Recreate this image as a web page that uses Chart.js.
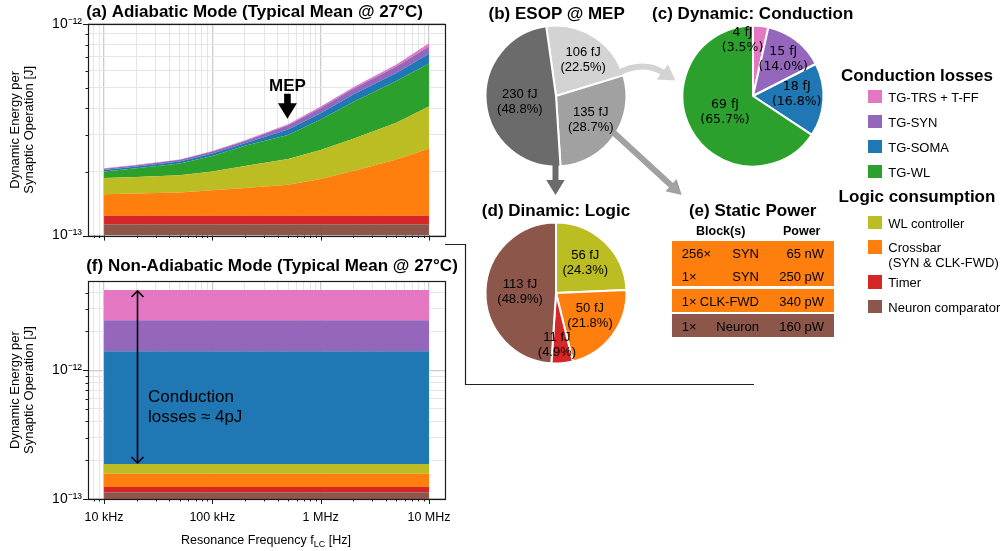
<!DOCTYPE html>
<html><head><meta charset="utf-8">
<script src="https://cdn.jsdelivr.net/npm/chart.js@4.4.0/dist/chart.umd.min.js"></script>
<style>
html,body{margin:0;padding:0;background:#fff;}
#root{position:relative;width:1000px;height:551px;overflow:hidden;font-family:'Liberation Sans',Arial,sans-serif;color:#000;}
canvas{position:absolute;}
.t{position:absolute;white-space:nowrap;transform:translate(-50%,-50%);line-height:1;}
.l{position:absolute;white-space:nowrap;line-height:1;}
.sw{position:absolute;width:13.5px;height:13.5px;}
.blk{position:absolute;}
</style></head><body><div id="root">
<canvas id="cA" width="470" height="250" style="left:0;top:0;width:470px;height:250px"></canvas>
<canvas id="cF" width="470" height="301" style="left:0;top:250px;width:470px;height:301px"></canvas>
<canvas id="cB" width="160" height="160" style="left:476px;top:16px;width:160px;height:160px"></canvas>
<canvas id="cC" width="160" height="160" style="left:673px;top:16px;width:160px;height:160px"></canvas>
<canvas id="cD" width="160" height="160" style="left:476px;top:213px;width:160px;height:160px"></canvas>
<canvas id="cO" width="1000" height="551" style="left:0;top:0;width:1000px;height:551px;z-index:5;pointer-events:none"></canvas>
<div id="html" style="position:absolute;left:0;top:0;width:1000px;height:551px;z-index:6"></div>
</div>
<script>
// ---------------- DATA ----------------
const freqHz = [1e4, 2e4, 5e4, 1e5, 2e5, 5e5, 1e6, 2e6, 5e6, 1e7];
// Adiabatic mode components (fJ per synaptic operation)
const adNeuron   = [113, 113, 113, 113, 113, 113, 113, 113, 113, 113];
const adTimer    = [11, 11, 11, 11, 11, 11, 11, 11, 11, 11];
const adCrossbar = [33, 34, 36, 40, 44, 50, 61, 78, 105, 134];
const adWlCtrl   = [30, 31, 33, 37, 45, 56, 69, 85, 112, 149];
const adTgWl     = [14, 19, 26, 37, 53, 69, 100, 141, 197, 244];
const adTgSoma   = [3, 4, 5, 6.5, 7, 18, 25, 36, 49, 72];
const adTgSyn    = [3, 3, 4, 5, 7, 15, 22, 30, 42, 60];
const adTgTrs    = [1, 1, 1, 1.5, 2, 4, 6, 9, 14, 28];
const mepHz = 5e5;
// Non-adiabatic mode (constant over frequency), fJ, same series order
const naFreqHz = [1e4, 1e7];
const naFJ = [113, 11, 33, 30, 0, 1216, 1037, 1750];

const seriesNames  = ['Neuron comparator', 'Timer', 'Crossbar', 'WL controller', 'TG-WL', 'TG-SOMA', 'TG-SYN', 'TG-TRS + T-FF'];
const seriesColors = ['#8c564b', '#d62728', '#ff7f0e', '#bcbd22', '#2ca02c', '#1f77b4', '#9467bd', '#e377c2'];

const xTickValues = [1e4, 1e5, 1e6, 1e7];
const xTickLabels = ['10 kHz', '100 kHz', '1 MHz', '10 MHz'];
const yTickValues = [1e-13, 1e-12];
const yTickLabels = ['10\u207B\u00B9\u00B3', '10\u207B\u00B9\u00B2'];

// Pies
const esopFJ  = [106, 135, 230];           // conduction, static, logic
const esopPct = [22.5, 28.7, 48.8];
const esopColors = ['#d3d3d3', '#a1a1a1', '#6b6b6b'];
const condFJ  = [4, 15, 18, 69];           // TG-TRS+T-FF, TG-SYN, TG-SOMA, TG-WL
const condPct = [3.5, 14.0, 16.8, 65.7];
const condColors = ['#e377c2', '#9467bd', '#1f77b4', '#2ca02c'];
const logicFJ  = [56, 50, 11, 113];        // WL controller, Crossbar, Timer, Neuron comparator
const logicPct = [24.3, 21.8, 4.9, 48.9];
const logicColors = ['#bcbd22', '#ff7f0e', '#d62728', '#8c564b'];

// Static power table
const staticCount = ['256\u00D7', '1\u00D7', '1\u00D7', '1\u00D7'];
const staticBlock = ['SYN', 'SYN', 'CLK-FWD', 'Neuron'];
const staticPower = ['65 nW', '250 pW', '340 pW', '160 pW'];
const staticGroupColor = ['#ff7f0e', '#ff7f0e', '#8c564b'];

// Legends
const condLegend = ['TG-TRS + T-FF', 'TG-SYN', 'TG-SOMA', 'TG-WL'];
const logicLegend = ['WL controller', 'Crossbar|(SYN & CLK-FWD)', 'Timer', 'Neuron comparator'];

// ---------------- HELPERS ----------------
const FONT = "'Liberation Sans', Arial, sans-serif";
Chart.defaults.font.family = FONT;
Chart.defaults.color = '#000';
const X_MIN = Math.pow(10, 3.852), X_MAX = Math.pow(10, 7.148);
function isPow10(v){ const l = Math.log10(v); return Math.abs(l - Math.round(l)) < 1e-6; }
function decadeTicks(lo, hi){
  const out = [];
  for (let e = Math.floor(Math.log10(lo)) - 1; e <= Math.ceil(Math.log10(hi)); e++)
    for (let m = 1; m <= 9; m++){ const v = m * Math.pow(10, e); if (v >= lo*(1-1e-9) && v <= hi*(1+1e-9)) out.push(v); }
  return out;
}
function matchLabel(v, vals, labels){
  for (let i = 0; i < vals.length; i++) if (Math.abs(Math.log10(v) - Math.log10(vals[i])) < 1e-6) return labels[i];
  return '';
}
// zero-valued series cannot sit on a log scale; they are left out of the stack
function buildDatasets(xs, comps){
  const out = [];
  comps.forEach((vals, i) => {
    if (vals.every(v => v === 0)) return;
    out.push({
      label: seriesNames[i],
      data: xs.map((x, j) => ({x: x, y: vals[j] * 1e-15})),
      backgroundColor: seriesColors[i], borderColor: seriesColors[i],
      borderWidth: 0, pointRadius: 0, tension: 0, fill: out.length === 0 ? 'start' : '-1'
    });
  });
  return out;
}
function gridColor(c){ return c.tick && isPow10(c.tick.value) ? '#cdcdcd' : '#e5e5e5'; }
function gridWidth(c){ return c.tick && isPow10(c.tick.value) ? 1.3 : 1; }

function frameAndTicks(chart){
  const ctx = chart.ctx, a = chart.chartArea, xs = chart.scales.x, ys = chart.scales.y;
  ctx.save();
  ctx.strokeStyle = '#1a1a1a'; ctx.lineWidth = 1;
  ctx.beginPath();
  xs.ticks.forEach(t => { const p = Math.round(xs.getPixelForValue(t.value)) + 0.5; const L = isPow10(t.value) ? 5 : 2.5;
    ctx.moveTo(p, a.bottom); ctx.lineTo(p, a.bottom + L); });
  ys.ticks.forEach(t => { const p = Math.round(ys.getPixelForValue(t.value)) + 0.5; const L = isPow10(t.value) ? 5 : 2.5;
    ctx.moveTo(a.left, p); ctx.lineTo(a.left - L, p); });
  ctx.stroke();
  ctx.lineWidth = 1.2;
  ctx.strokeRect(Math.round(a.left) + 0.5, Math.round(a.top) + 0.5, Math.round(a.right - a.left), Math.round(a.bottom - a.top));
  ctx.restore();
}
function yTitle(chart){
  const ctx = chart.ctx, a = chart.chartArea;
  ctx.save();
  ctx.translate(0, (a.top + a.bottom) / 2);
  ctx.rotate(-Math.PI / 2);
  ctx.font = '13px ' + FONT; ctx.fillStyle = '#000'; ctx.textAlign = 'center'; ctx.textBaseline = 'middle';
  ctx.fillText('Dynamic Energy per', 0, 15);
  ctx.fillText('Synaptic Operation [J]', 0, 29.5);
  ctx.restore();
}
function titleText(ctx, text, cx, cy){
  ctx.save(); ctx.font = 'bold 17px ' + FONT; ctx.fillStyle = '#000'; ctx.textAlign = 'center'; ctx.textBaseline = 'middle';
  ctx.fillText(text, cx, cy); ctx.restore();
}

function areaOptions(yMax, padTop, xAxisH, showX){
  const yT = decadeTicks(1e-13, yMax), xT = decadeTicks(X_MIN, X_MAX);
  return {
    responsive: false, animation: false, events: [],
    layout: {padding: {top: padTop, right: 25, left: 0, bottom: 0}},
    plugins: {legend: {display: false}, tooltip: {enabled: false}},
    scales: {
      x: {type: 'logarithmic', min: X_MIN, max: X_MAX,
          afterBuildTicks: s => { s.ticks = xT.map(v => ({value: v})); },
          afterFit: s => { s.height = xAxisH; },
          grid: {color: gridColor, lineWidth: gridWidth, drawTicks: false},
          border: {display: false},
          ticks: {display: showX, autoSkip: false, maxRotation: 0, minRotation: 0, padding: 11, font: {size: 12.5},
                  callback: v => matchLabel(v, xTickValues, xTickLabels)}},
      y: {type: 'logarithmic', stacked: true, min: 1e-13, max: yMax,
          afterBuildTicks: s => { s.ticks = yT.map(v => ({value: v})); },
          afterFit: s => { s.width = 88; },
          grid: {color: gridColor, lineWidth: gridWidth, drawTicks: false},
          border: {display: false},
          ticks: {autoSkip: false, padding: 6, font: {size: 14},
                  callback: v => matchLabel(v, yTickValues, yTickLabels)}}
    }
  };
}

// ---------------- CHART (a) ----------------
const adComps = [adNeuron, adTimer, adCrossbar, adWlCtrl, adTgWl, adTgSoma, adTgSyn, adTgTrs];
new Chart(document.getElementById('cA'), {
  type: 'line',
  data: {datasets: buildDatasets(freqHz, adComps)},
  options: areaOptions(1e-12, 24, 6, false),
  plugins: [{id: 'decoA', afterDraw(chart){
    frameAndTicks(chart); yTitle(chart);
    const ctx = chart.ctx;
    titleText(ctx, '(a) Adiabatic Mode (Typical Mean @ 27\u00B0C)', 254.5, 12.7);
    // MEP arrow
    const k = freqHz.indexOf(mepHz);
    const tot = adComps.reduce((s, arr) => s + arr[k], 0) * 1e-15;
    const x = chart.scales.x.getPixelForValue(mepHz) - 0.6;
    const tip = chart.scales.y.getPixelForValue(tot) - 5.5;
    ctx.save(); ctx.fillStyle = '#000';
    ctx.beginPath();
    ctx.moveTo(x - 3.3, tip - 25); ctx.lineTo(x + 3.3, tip - 25); ctx.lineTo(x + 3.3, tip - 15.5);
    ctx.lineTo(x + 9.5, tip - 15.5); ctx.lineTo(x, tip); ctx.lineTo(x - 9.5, tip - 15.5); ctx.lineTo(x - 3.3, tip - 15.5);
    ctx.closePath(); ctx.fill();
    ctx.font = 'bold 17px ' + FONT; ctx.textAlign = 'center'; ctx.textBaseline = 'middle';
    ctx.fillText('MEP', x, tip - 32);
    ctx.restore();
  }}]
});

// ---------------- CHART (f) ----------------
const naComps = naFJ.map(v => naFreqHz.map(() => v));
new Chart(document.getElementById('cF'), {
  type: 'line',
  data: {datasets: buildDatasets(naFreqHz, naComps)},
  options: areaOptions(Math.pow(10, -11.308), 31, 52, true),
  plugins: [{id: 'decoF', afterDraw(chart){
    frameAndTicks(chart); yTitle(chart);
    const ctx = chart.ctx;
    titleText(ctx, '(f) Non-Adiabatic Mode (Typical Mean @ 27\u00B0C)', 272, 16.7);
    // x title with subscript
    ctx.save(); ctx.fillStyle = '#000'; ctx.textBaseline = 'alphabetic'; ctx.textAlign = 'left';
    const parts = [['Resonance Frequency f', 12.5, 0], ['LC', 9, 3], [' [Hz]', 12.5, 0]];
    let w = 0; parts.forEach(p => { ctx.font = p[1] + 'px ' + FONT; w += ctx.measureText(p[0]).width; });
    let cx = 266 - w / 2; const base = 293.5;
    parts.forEach(p => { ctx.font = p[1] + 'px ' + FONT; ctx.fillText(p[0], cx, base + p[2]); cx += ctx.measureText(p[0]).width; });
    ctx.restore();
    // conduction double arrow at 20 kHz
    const xs = chart.scales.x, ys = chart.scales.y;
    const ax = Math.round(xs.getPixelForValue(2e4)) + 0.5;
    const top = ys.getPixelForValue(naFJ.reduce((s, v) => s + v, 0) * 1e-15);
    const bot = ys.getPixelForValue((naFJ[0] + naFJ[1] + naFJ[2] + naFJ[3]) * 1e-15);
    ctx.save(); ctx.strokeStyle = '#000'; ctx.lineWidth = 1.6; ctx.lineJoin = 'miter';
    ctx.beginPath(); ctx.moveTo(ax, top + 1); ctx.lineTo(ax, bot - 1); ctx.stroke();
    ctx.beginPath(); ctx.moveTo(ax - 6, top + 7); ctx.lineTo(ax, top + 1); ctx.lineTo(ax + 6, top + 7); ctx.stroke();
    ctx.beginPath(); ctx.moveTo(ax - 6, bot - 7); ctx.lineTo(ax, bot - 1); ctx.lineTo(ax + 6, bot - 7); ctx.stroke();
    ctx.font = '17px ' + FONT; ctx.fillStyle = '#000'; ctx.textAlign = 'left'; ctx.textBaseline = 'middle';
    ctx.fillText('Conduction', ax + 10.5, 147);
    ctx.fillText('losses \u2248 4pJ', ax + 10.5, 167.3);
    ctx.restore();
  }}]
});

// ---------------- PIES ----------------
function pie(id, pct, fj, colors, rotation, font, dist, angOff){
  new Chart(document.getElementById(id), {
    type: 'pie',
    data: {labels: fj.map(String), datasets: [{data: pct, backgroundColor: colors, borderColor: '#fff', borderWidth: 2, radius: 70.5, rotation: rotation}]},
    options: {responsive: false, animation: false, events: [], rotation: rotation, radius: 70.5,
              layout: {padding: 0}, plugins: {legend: {display: false}, tooltip: {enabled: false}}},
    plugins: [{id: 'pl', afterDatasetsDraw(chart){
      const ctx = chart.ctx, meta = chart.getDatasetMeta(0);
      ctx.save(); ctx.font = font; ctx.fillStyle = '#000'; ctx.textAlign = 'center'; ctx.textBaseline = 'middle';
      meta.data.forEach((arc, i) => {
        const p = arc.getProps(['x', 'y', 'startAngle', 'endAngle', 'outerRadius'], true);
        const mid = (p.startAngle + p.endAngle) / 2 + angOff[i] * Math.PI / 180;
        const r = p.outerRadius * dist[i];
        const cx = p.x + Math.cos(mid) * r, cy = p.y + Math.sin(mid) * r;
        ctx.fillText(fj[i] + ' fJ', cx, cy - 7.5);
        ctx.fillText('(' + pct[i].toFixed(1) + '%)', cx, cy + 7.5);
      });
      ctx.restore();
    }}]
  });
}
pie('cB', esopPct, esopFJ, esopColors, -8, '13px ' + FONT, [0.64, 0.6, 0.52], [4.5, 0, -3.4]);
pie('cC', condPct, condFJ, condColors, 0, "12.5px 'DejaVu Sans', sans-serif", [0.8, 0.67, 0.62, 0.46], [-17, 2, -5, -2]);
pie('cD', logicPct, logicFJ, logicColors, 0, '13px ' + FONT, [0.6, 0.58, 0.74, 0.51], [0, -3, 4, 0]);

// ---------------- OVERLAY ARROWS / CONNECTOR ----------------
(function(){
  const ctx = document.getElementById('cO').getContext('2d');
  function blockArrow(x0, y0, x1, y1, w, hw, hl, color){
    const dx = x1 - x0, dy = y1 - y0, L = Math.hypot(dx, dy), ux = dx / L, uy = dy / L, px = -uy, py = ux;
    const bx = x1 - ux * hl, by = y1 - uy * hl;
    ctx.fillStyle = color; ctx.beginPath();
    ctx.moveTo(x0 + px*w/2, y0 + py*w/2); ctx.lineTo(bx + px*w/2, by + py*w/2); ctx.lineTo(bx + px*hw/2, by + py*hw/2);
    ctx.lineTo(x1, y1); ctx.lineTo(bx - px*hw/2, by - py*hw/2); ctx.lineTo(bx - px*w/2, by - py*w/2); ctx.lineTo(x0 - px*w/2, y0 - py*w/2);
    ctx.closePath(); ctx.fill();
  }
  blockArrow(555.5, 164, 555.5, 195, 6, 18.4, 15, '#6b6b6b');
  blockArrow(613, 132, 681.7, 195, 6, 16.5, 14.5, '#a1a1a1');
  // curved light arrow
  ctx.strokeStyle = '#d3d3d3'; ctx.lineWidth = 6; ctx.lineCap = 'butt';
  ctx.beginPath(); ctx.moveTo(617, 73.5); ctx.quadraticCurveTo(643, 60, 663, 72.5); ctx.stroke();
  ctx.fillStyle = '#d3d3d3'; ctx.beginPath();
  ctx.moveTo(668, 64.5); ctx.lineTo(675.5, 80.5); ctx.lineTo(656.5, 79.5); ctx.closePath(); ctx.fill();
  // connector frame
  ctx.strokeStyle = '#222'; ctx.lineWidth = 1.2; ctx.lineCap = 'butt';
  ctx.beginPath(); ctx.moveTo(445, 244.5); ctx.lineTo(465.5, 244.5); ctx.lineTo(465.5, 384.5); ctx.lineTo(754, 384.5); ctx.stroke();
})();

// ---------------- HTML TEXT: titles, legend, table ----------------
(function(){
  const H = document.getElementById('html');
  function add(cls, text, x, y, style){
    const d = document.createElement('div'); d.className = cls; d.textContent = text;
    d.style.left = x + 'px'; d.style.top = y + 'px'; if (style) d.setAttribute('style', d.getAttribute('style') + ';' + style);
    H.appendChild(d); return d;
  }
  const tStyle = 'font-size:17px;font-weight:bold';
  add('t', '(b) ESOP @ MEP', 556.7, 13.3, tStyle);
  add('t', '(c) Dynamic: Conduction', 752.7, 13.3, tStyle);
  add('t', '(d) Dinamic: Logic', 556, 210, tStyle);
  add('t', '(e) Static Power', 752.7, 210, tStyle);
  add('t', 'Conduction losses', 917, 75, tStyle);
  add('t', 'Logic consumption', 917, 196, tStyle);
  // legends
  condLegend.forEach((name, i) => {
    const y = 96.7 + i * 25;
    const s = document.createElement('div'); s.className = 'sw';
    s.style.left = '868px'; s.style.top = (y - 6.75) + 'px'; s.style.background = condColors[i]; H.appendChild(s);
    const d = add('l', name, 888.3, y, 'font-size:13px'); d.style.transform = 'translateY(-50%)';
  });
  logicLegend.forEach((name, i) => {
    const y = 222.7 + i * 24.5 + (i >= 2 ? 10.5 : 0);
    const s = document.createElement('div'); s.className = 'sw';
    s.style.left = '868px'; s.style.top = (y - 6.75) + 'px'; s.style.background = logicColors[i]; H.appendChild(s);
    name.split('|').forEach((ln, j) => { const d = add('l', ln, 888.3, y + j * 15, 'font-size:13px'); d.style.transform = 'translateY(-50%)'; });
  });
  // table
  add('t', 'Block(s)', 720.7, 230.7, 'font-size:12.5px;font-weight:bold');
  add('t', 'Power', 801.7, 230.7, 'font-size:12.5px;font-weight:bold');
  const groupTop = [241, 289, 314.3], groupH = [44.7, 22.7, 22.4];
  groupTop.forEach((t, g) => {
    const b = document.createElement('div'); b.className = 'blk';
    b.style.left = '672px'; b.style.top = t + 'px'; b.style.width = '162px'; b.style.height = groupH[g] + 'px';
    b.style.background = staticGroupColor[g]; H.appendChild(b);
  });
  const rowY = [252.7, 275.7, 300.7, 325.7];
  staticCount.forEach((c, i) => {
    const y = rowY[i];
    const a = add('l', c, 681.7, y, 'font-size:13px'); a.style.transform = 'translateY(-50%)';
    const b = add('l', staticBlock[i], 0, y, 'font-size:13px'); b.style.left = 'auto'; b.style.right = (1000 - 759) + 'px'; b.style.transform = 'translateY(-50%)';
    const p = add('l', staticPower[i], 0, y, 'font-size:13px'); p.style.left = 'auto'; p.style.right = (1000 - 824) + 'px'; p.style.transform = 'translateY(-50%)';
  });
})();
</script>
</body></html>
